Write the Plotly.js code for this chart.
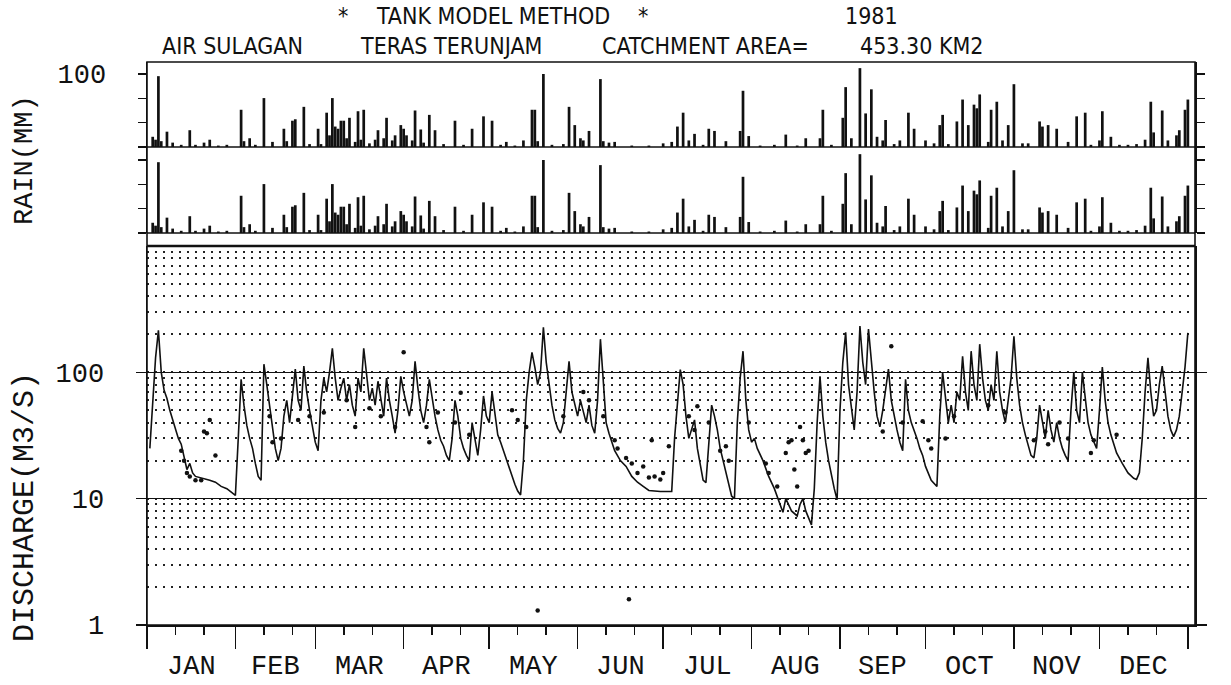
<!DOCTYPE html>
<html>
<head>
<meta charset="utf-8">
<script src="https://cdn.plot.ly/plotly-3.0.1.min.js"></script>
<style>
  html, body { margin: 0; padding: 0; background: #fff; }
  #chart { width: 1231px; height: 685px; }
</style>
</head>
<body>
<div id="chart"></div>
<script>
// ---------------- DATA (day of year 1981) ----------------
const monthNames = ['JAN','FEB','MAR','APR','MAY','JUN','JUL','AUG','SEP','OCT','NOV','DEC'];
const monthLengths = [31,28,31,30,31,30,31,31,30,31,30,31];

// daily rainfall [day, mm]
const rain = [
 [2,14],[3,10],[4,97],[5,8],[7,21],[9,6],[12,3],[15,23],[17,3],[20,6],[22,10],[25,2],[28,3],
 [33,51],[34,8],[36,12],[38,3],[41,67],[44,7],[48,25],[49,8],[51,36],[52,38],[55,55],[57,4],
 [60,25],[61,4],[63,47],[64,16],[65,67],[66,28],[67,25],[68,36],[69,36],[70,12],[71,40],[73,7],
 [74,49],[75,10],[76,51],[78,5],[80,10],[81,23],[83,12],[84,40],[86,9],[87,16],[89,30],[90,25],
 [91,16],[93,9],[94,50],[96,24],[97,6],[99,44],[101,23],[104,4],[108,36],[111,3],[114,25],[118,42],
 [121,36],[124,3],[126,7],[129,2],[132,9],[135,51],[136,51],[137,8],[139,100],[142,3],[146,4],
 [148,55],[150,30],[152,12],[153,9],[155,22],[159,93],[160,8],[162,6],[164,7],[170,2],[176,2],
 [181,5],[184,7],[186,28],[188,47],[190,9],[192,18],[195,3],[197,25],[199,22],[203,8],[208,22],
 [209,77],[211,15],[215,2],[220,3],[224,17],[228,2],[231,12],[236,12],[237,51],[240,3],
 [244,40],[245,82],[247,12],[250,108],[252,46],[254,79],[256,14],[258,9],[259,37],[262,4],[264,9],
 [267,47],[269,25],[273,9],[276,5],[278,30],[279,44],[281,4],[284,35],[286,65],[288,30],[290,58],
 [291,53],[292,72],[295,7],[296,51],[298,62],[300,9],[302,30],[304,86],[307,5],[309,5],[313,35],
 [314,28],[316,30],[319,25],[323,7],[326,42],[329,47],[331,3],[334,9],[335,49],[338,14],[341,3],
 [344,3],[347,4],[350,10],[352,62],[353,20],[356,50],[358,9],[361,16],[362,23],[364,51],[365,65]
];

// simulated discharge (tank model) [day, m3/s]
const simulated = [
 [1,25],[2,60],[3,130],[4,215],[5,100],[6,72],[7,62],[8,50],[9,42],[10,35],[11,30],[12,27],[13,22],
 [14,17],[15,19],[16,16],[17,15],[18,14.8],[20,14.5],[22,14],[24,13.5],[26,12.5],[28,12],[30,11],[31,10.6],
 [32,30],[33,88],[34,55],[35,38],[36,30],[37,25],[38,19],[39,15],[40,14],[41,116],[42,80],[43,55],
 [44,35],[45,25],[46,20],[47,25],[48,45],[49,60],[50,40],[51,70],[52,106],[53,60],[54,50],[55,112],
 [56,70],[57,50],[58,37],[59,28],
 [60,24],[61,60],[62,90],[63,70],[64,100],[65,155],[66,90],[67,60],[68,75],[69,90],[70,60],[71,80],
 [72,55],[73,45],[74,90],[75,70],[76,155],[77,90],[78,60],[79,75],[80,55],[81,85],[82,60],[83,45],
 [84,90],[85,60],[86,45],[87,33],[88,50],[89,93],[90,70],
 [91,55],[92,45],[93,60],[94,122],[95,75],[96,50],[97,40],[98,55],[99,88],[100,60],[101,45],[102,35],
 [103,29],[104,26],[105,22],[106,20],[107,30],[108,60],[109,45],[110,30],[111,25],[112,22],[113,20],
 [114,40],[115,30],[116,22],[117,35],[118,65],[119,45],[120,40],
 [121,70],[122,45],[123,32],[124,28],[125,24],[126,20],[127,17],[128,15],[129,13],[130,11.5],[131,10.7],
 [132,20],[133,60],[134,100],[135,144],[136,110],[137,80],[138,100],[139,227],[140,120],[141,80],
 [142,55],[143,42],[144,36],[145,33],[146,40],[147,70],[148,122],[149,70],[150,55],[151,45],
 [152,60],[153,50],[154,40],[155,55],[156,38],[157,33],[158,60],[159,183],[160,80],[161,40],[162,33],
 [163,28],[164,24],[166,20],[168,18],[170,15],[172,13.5],[174,12.5],[176,11.6],[180,11.4],[184,11.4],
 [185,30],[186,60],[187,105],[188,80],[189,45],[190,30],[191,35],[192,42],[193,25],[194,18],[195,14],
 [196,13.4],[197,30],[198,55],[199,45],[200,35],[201,25],[202,20],[203,16],[204,13],[205,10.5],[206,10],
 [207,40],[208,90],[209,147],[210,60],[211,35],[212,28],
 [213,30],[214,25],[216,20],[218,15],[220,12],[222,9],[223,7.8],[224,10],[225,9],[226,8],[228,7.3],
 [229,9],[230,10],[231,8],[233,6.2],[234,12],[235,40],[236,93],[237,45],[238,28],[239,20],[240,15],
 [241,12],[242,9.8],
 [243,50],[244,120],[245,207],[246,80],[247,50],[248,35],[249,70],[250,232],[251,120],[252,80],
 [253,220],[254,120],[255,70],[256,45],[257,37],[258,50],[259,70],[260,106],[261,60],[262,45],
 [263,35],[264,28],[265,24],[266,88],[267,50],[268,40],[269,35],[270,30],[271,25],[272,22],
 [273,18],[275,14],[277,12.5],[278,45],[279,100],[280,60],[281,40],[282,55],[283,40],[284,70],
 [285,60],[286,134],[287,70],[288,50],[289,147],[290,80],[291,60],[292,167],[293,90],[294,60],
 [295,50],[296,80],[297,60],[298,147],[299,70],[300,50],[301,40],[302,60],[303,90],
 [304,193],[305,90],[306,55],[307,40],[308,32],[309,26],[310,22],[311,21],[312,30],[313,55],[314,40],
 [315,30],[316,50],[317,35],[318,28],[319,40],[320,30],[321,25],[322,22],[323,20],[324,50],[325,100],
 [326,50],[327,40],[328,100],[329,60],[330,40],[331,32],[332,28],[333,25],
 [334,50],[335,110],[336,60],[337,40],[338,32],[339,27],[340,23],[342,19],[344,16],[346,14.5],
 [347,14.2],[348,16],[349,30],[350,70],[351,130],[352,70],[353,45],[354,50],[355,80],[356,112],
 [357,70],[358,45],[359,35],[360,31],[361,35],[362,45],[363,70],[364,110],[365,205]
];

// observed discharge [day, m3/s]
const observed = [
 [12,24],[13,20],[14,16],[15,15],[17,14],[19,14],[20,34],[21,33],[22,42],[24,22],
 [43,45],[44,28],[47,30],[53,42],[57,45],
 [62,48],[70,60],[73,37],[78,52],[82,45],[87,37],[90,144],
 [98,37],[99,28],[102,48],[108,40],[110,69],[113,32],
 [128,50],[130,42],[133,37],[137,1.3],[146,45],[153,70],[155,60],
 [160,45],[164,29],[165,25],[168,21],[169,1.6],[170,19],[172,16],[174,18],[176,14.7],[177,29],
 [178,15],[180,14.2],[181,16],[183,26],
 [190,45],[192,35],[193,54],[197,40],[201,24],[203,26],[204,20],[211,40],
 [217,19],[218,16],[221,12.5],[224,23],[225,28],[226,29],[227,17],[228,12.5],[229,37],[230,29],
 [231,23],[232,24],
 [258,34],[261,161],[265,40],[272,41],[274,29],[275,25],
 [280,30],[283,45],[295,55],[301,48],
 [311,29],[315,34],[316,27],[320,40],[323,30],[331,23],[332,29],[340,32]
];

const dischargeTicks = [1, 10, 100];
const rainTicks = [0, 100/3, 200/3, 100];

// ---------------- AXIS HELPERS ----------------
const monthStarts = [0];
monthLengths.forEach((l, i) => monthStarts.push(monthStarts[i] + l));
const monthMids = monthLengths.map((l, i) => monthStarts[i] + l / 2);
const minorDays = [];
monthLengths.forEach((l, i) => { minorDays.push(monthStarts[i] + 10, monthStarts[i] + 20); });

const MONO = 'Liberation Mono, DejaVu Sans Mono, monospace';
const NARROW = 'Liberation Sans Narrow, DejaVu Sans Condensed, Liberation Sans, sans-serif';
const BLACK = '#111';

const rainTrace = (yax) => ({
  type: 'bar',
  x: rain.map(r => r[0]),
  y: rain.map(r => r[1]),
  xaxis: 'x', yaxis: yax,
  width: 0.95,
  marker: { color: BLACK, line: { width: 0 } },
  hoverinfo: 'skip'
});

const traces = [
  rainTrace('y2'),
  rainTrace('y3'),
  {
    type: 'scatter', mode: 'lines',
    x: simulated.map(p => p[0]), y: simulated.map(p => p[1]),
    xaxis: 'x', yaxis: 'y',
    line: { color: BLACK, width: 1.6 },
    hoverinfo: 'skip'
  },
  {
    type: 'scatter', mode: 'markers',
    x: observed.map(p => p[0]), y: observed.map(p => p[1]),
    xaxis: 'x', yaxis: 'y',
    marker: { color: BLACK, size: 4.5 },
    hoverinfo: 'skip'
  }
];

const RANGE_X = [0, 367.5];
const rainAxis = (domain, range, labels) => ({
  domain: domain, range: range, anchor: 'x',
  tickmode: 'array', tickvals: rainTicks, ticktext: labels,
  ticks: 'outside', ticklen: 8, tickwidth: 1.5, tickcolor: BLACK,
  showline: true, linecolor: BLACK, linewidth: 1.5, mirror: 'ticks',
  showgrid: false, zeroline: false, fixedrange: true,
  tickfont: { family: MONO, size: 27, color: BLACK },
  ticklabelstandoff: 26
});

const layout = {
  width: 1231, height: 685,
  margin: { l: 147, r: 36, t: 62, b: 60, pad: 0 },
  paper_bgcolor: '#fff', plot_bgcolor: 'rgba(0,0,0,0)',
  showlegend: false,
  barmode: 'overlay',
  xaxis: {
    range: RANGE_X, anchor: 'y', domain: [0, 1],
    tickmode: 'array', tickvals: monthStarts, showticklabels: false,
    ticks: 'outside', ticklen: 22, tickwidth: 1.5, tickcolor: BLACK,
    minor: { tickmode: 'array', tickvals: minorDays, ticks: 'outside', ticklen: 8, tickwidth: 1.5, tickcolor: BLACK, showgrid: false },
    showline: true, linecolor: BLACK, linewidth: 1.5,
    showgrid: false, zeroline: false, fixedrange: true
  },
  yaxis: {
    type: 'log', range: [0, 3], domain: [0, 0.6732], anchor: 'x',
    tickmode: 'array', tickvals: dischargeTicks, ticktext: dischargeTicks.map(String),
    ticks: 'outside', ticklen: 10, tickwidth: 1.5, tickcolor: BLACK,
    showline: true, linecolor: BLACK, linewidth: 1.5, mirror: 'ticks',
    showgrid: true, gridcolor: BLACK, gridwidth: 1.6,
    minor: { dtick: 'D1', showgrid: true, gridcolor: '#222', gridwidth: 2, griddash: '2px,6px', ticks: '' },
    zeroline: false, fixedrange: true,
    tickfont: { family: MONO, size: 27, color: BLACK },
    ticklabelstandoff: 26
  },
  yaxis2: rainAxis([0.849, 1], [0, 116.4], ['', '', '', '100']),
  yaxis3: rainAxis([0.6963, 0.849], [0, 117.8], ['', '', '', '']),
  shapes: [
    { type: 'rect', xref: 'paper', yref: 'paper', x0: 0, x1: 1, y0: 0, y1: 1, line: { color: BLACK, width: 1.6 } },
    { type: 'line', xref: 'paper', yref: 'y2 domain', x0: 0, x1: 1, y0: 0, y1: 0, line: { color: BLACK, width: 1.6 } },
    { type: 'line', xref: 'paper', yref: 'y3 domain', x0: 0, x1: 1, y0: 0, y1: 0, line: { color: BLACK, width: 1.6 } },
    { type: 'line', xref: 'paper', yref: 'y domain', x0: 0, x1: 1, y0: 1, y1: 1, line: { color: BLACK, width: 2.6 } }
  ],
  annotations: []
};

const px2x = px => (px - 147) / 1048;
const py2y = py => 1 - (py - 62) / 563;
const titleFont = { family: NARROW, size: 23, color: BLACK };
const titleBits = [
  ['*', 336, 16], ['TANK MODEL METHOD', 374, 16], ['*', 636, 16], ['1981', 843, 16],
  ['AIR SULAGAN', 160, 46], ['TERAS TERUNJAM', 358, 46], ['CATCHMENT AREA=', 600, 46], ['453.30 KM2', 858, 46]
];
titleBits.forEach(b => layout.annotations.push({
  text: b[0], xref: 'paper', yref: 'paper', x: px2x(b[1]), y: py2y(b[2]),
  xanchor: 'left', yanchor: 'middle', showarrow: false, font: titleFont
}));
// month labels centred in each month
monthNames.forEach((m, i) => layout.annotations.push({
  text: m, xref: 'x', yref: 'paper', x: monthMids[i], y: py2y(667),
  xanchor: 'center', yanchor: 'middle', showarrow: false,
  font: { family: MONO, size: 27, color: BLACK }
}));
layout.annotations.push({
  text: 'RAIN(MM)', xref: 'paper', yref: 'paper', x: px2x(25), y: py2y(160),
  xanchor: 'center', yanchor: 'middle', textangle: -90, showarrow: false,
  font: { family: MONO, size: 27, color: BLACK }
});
layout.annotations.push({
  text: 'DISCHARGE(M3/S)', xref: 'paper', yref: 'paper', x: px2x(25), y: py2y(507),
  xanchor: 'center', yanchor: 'middle', textangle: -90, showarrow: false,
  font: { family: MONO, size: 30, color: BLACK }
});

Plotly.newPlot('chart', traces, layout, { staticPlot: true, displayModeBar: false });
</script>
</body>
</html>
